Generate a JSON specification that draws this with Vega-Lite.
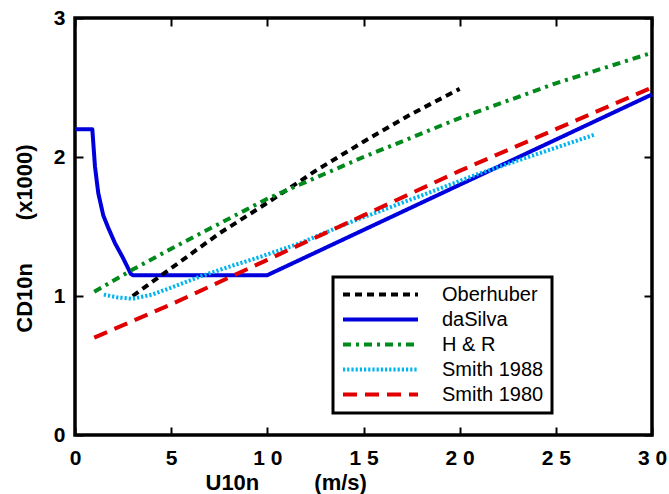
{
  "$schema": "https://vega.github.io/schema/vega-lite/v6.json",
  "width": 577,
  "height": 417,
  "autosize": {"type": "none"},
  "padding": {"left": 75, "top": 18, "right": 17, "bottom": 59},
  "background": "white",
  "config": {
    "view": {"stroke": "black", "strokeWidth": 3.5},
    "axis": {
      "domain": false,
      "grid": false,
      "ticks": true,
      "tickColor": "black",
      "tickWidth": 2,
      "tickCap": "butt",
      "labelFont": "Liberation Sans",
      "labelFontWeight": "bold",
      "labelFontSize": 21,
      "labelColor": "black",
      "labelOverlap": false,
      "labelBound": false,
      "labelFlush": false,
      "titleFont": "Liberation Sans",
      "titleFontWeight": "bold",
      "titleFontSize": 22,
      "titleColor": "black"
    },
    "legend": {
      "orient": "none",
      "legendX": 258,
      "legendY": 259,
      "symbolType": "stroke",
      "symbolSize": 5625,
      "clipHeight": 19,
      "rowPadding": 4,
      "labelFont": "Liberation Sans",
      "labelFontSize": 20,
      "labelColor": "black",
      "labelOffset": 22,
      "padding": 8,
      "strokeColor": "black",
      "strokeWidth": 3,
      "fillColor": "white",
      "labelLimit": 300
    }
  },
  "data": {
    "values": [
      {"s": "daSilva", "u": 0, "cd": 2.2},
      {"s": "daSilva", "u": 0.9, "cd": 2.2},
      {"s": "daSilva", "u": 1.04, "cd": 1.93},
      {"s": "daSilva", "u": 1.21, "cd": 1.74},
      {"s": "daSilva", "u": 1.47, "cd": 1.58},
      {"s": "daSilva", "u": 1.73, "cd": 1.49},
      {"s": "daSilva", "u": 2.08, "cd": 1.38},
      {"s": "daSilva", "u": 2.51, "cd": 1.27},
      {"s": "daSilva", "u": 2.9, "cd": 1.16},
      {"s": "daSilva", "u": 3, "cd": 1.15},
      {"s": "daSilva", "u": 10, "cd": 1.15},
      {"s": "daSilva", "u": 20, "cd": 1.8},
      {"s": "daSilva", "u": 30, "cd": 2.45},
      {"s": "Oberhuber", "u": 3, "cd": 1.0},
      {"s": "Oberhuber", "u": 5, "cd": 1.2},
      {"s": "Oberhuber", "u": 7.5, "cd": 1.45},
      {"s": "Oberhuber", "u": 10, "cd": 1.67},
      {"s": "Oberhuber", "u": 12.5, "cd": 1.9},
      {"s": "Oberhuber", "u": 15, "cd": 2.11},
      {"s": "Oberhuber", "u": 17.5, "cd": 2.31},
      {"s": "Oberhuber", "u": 20, "cd": 2.49},
      {"s": "H & R", "u": 1, "cd": 1.03},
      {"s": "H & R", "u": 3, "cd": 1.19},
      {"s": "H & R", "u": 5, "cd": 1.34},
      {"s": "H & R", "u": 7.5, "cd": 1.52},
      {"s": "H & R", "u": 10, "cd": 1.7},
      {"s": "H & R", "u": 15, "cd": 2.0},
      {"s": "H & R", "u": 20, "cd": 2.28},
      {"s": "H & R", "u": 25, "cd": 2.53},
      {"s": "H & R", "u": 30, "cd": 2.75},
      {"s": "Smith 1988", "u": 1.5, "cd": 1.01},
      {"s": "Smith 1988", "u": 2.2, "cd": 0.99},
      {"s": "Smith 1988", "u": 3, "cd": 0.98},
      {"s": "Smith 1988", "u": 4, "cd": 1.01},
      {"s": "Smith 1988", "u": 5, "cd": 1.06},
      {"s": "Smith 1988", "u": 6.5, "cd": 1.14},
      {"s": "Smith 1988", "u": 8, "cd": 1.21},
      {"s": "Smith 1988", "u": 9.6, "cd": 1.28},
      {"s": "Smith 1988", "u": 11.7, "cd": 1.38},
      {"s": "Smith 1988", "u": 14.3, "cd": 1.53},
      {"s": "Smith 1988", "u": 17, "cd": 1.67},
      {"s": "Smith 1988", "u": 21, "cd": 1.88},
      {"s": "Smith 1988", "u": 24, "cd": 2.02},
      {"s": "Smith 1988", "u": 27, "cd": 2.16},
      {"s": "Smith 1980", "u": 1, "cd": 0.7},
      {"s": "Smith 1980", "u": 5, "cd": 0.94},
      {"s": "Smith 1980", "u": 10, "cd": 1.26},
      {"s": "Smith 1980", "u": 15, "cd": 1.58},
      {"s": "Smith 1980", "u": 20, "cd": 1.9},
      {"s": "Smith 1980", "u": 25, "cd": 2.2},
      {"s": "Smith 1980", "u": 30, "cd": 2.5}
    ]
  },
  "resolve": {"axis": {"x": "independent", "y": "independent"}},
  "layer": [
    {
      "mark": {"type": "line", "strokeCap": "butt", "strokeJoin": "round"},
      "encoding": {
        "x": {
          "field": "u", "type": "quantitative",
          "scale": {"domain": [0, 30], "nice": false},
          "axis": {
            "orient": "bottom",
            "offset": -8,
            "tickSize": 8,
            "values": [0, 5, 10, 15, 20, 25, 30],
            "labelPadding": 12,
            "labelExpr": "datum.value < 10 ? '' + datum.value : floor(datum.value / 10) + ' ' + (datum.value % 10)",
            "title": "U10n\u00a0\u00a0\u00a0\u00a0\u00a0\u00a0\u00a0\u00a0\u00a0(m/s)",
            "titleX": 130,
            "titleY": 62,
            "titleAlign": "left",
            "titleBaseline": "alphabetic"
          }
        },
        "y": {
          "field": "cd", "type": "quantitative",
          "scale": {"domain": [0, 3], "nice": false},
          "axis": {
            "orient": "left",
            "offset": -8,
            "tickSize": 8,
            "values": [0, 1, 2, 3],
            "labelPadding": 10,
            "title": "CD10n\u00a0\u00a0\u00a0\u00a0\u00a0\u00a0\u00a0(x1000)",
            "titleAngle": 270,
            "titleX": -52,
            "titleY": 220,
            "titleAlign": "center",
            "titleBaseline": "alphabetic"
          }
        },
        "color": {
          "field": "s", "type": "nominal",
          "scale": {
            "domain": ["Oberhuber", "daSilva", "H & R", "Smith 1988", "Smith 1980"],
            "range": ["#000000", "#0000dd", "#008a1c", "#00b4f0", "#e00000"]
          },
          "legend": {"title": null, "labelExpr": "datum.label + '\u00a0'"}
        },
        "strokeDash": {
          "field": "s", "type": "nominal",
          "scale": {
            "domain": ["Oberhuber", "daSilva", "H & R", "Smith 1988", "Smith 1980"],
            "range": [[7, 5], [1, 0], [8, 5, 3, 5], [2.2, 2], [14, 8]]
          },
          "legend": {"title": null, "labelExpr": "datum.label + '\u00a0'"}
        },
        "strokeWidth": {
          "field": "s", "type": "nominal",
          "scale": {
            "domain": ["Oberhuber", "daSilva", "H & R", "Smith 1988", "Smith 1980"],
            "range": [4, 4, 4, 6.5, 7]
          },
          "legend": {"title": null, "labelExpr": "datum.label + '\u00a0'"}
        }
      }
    },
    {
      "mark": {"type": "point", "opacity": 0},
      "encoding": {
        "x": {
          "field": "u", "type": "quantitative",
          "axis": {
            "orient": "top",
            "offset": -8,
            "tickSize": 8,
            "values": [0, 5, 10, 15, 20, 25, 30],
            "labels": false,
            "title": null
          }
        },
        "y": {
          "field": "cd", "type": "quantitative",
          "axis": {
            "orient": "right",
            "offset": -8,
            "tickSize": 8,
            "values": [0, 1, 2, 3],
            "labels": false,
            "title": null
          }
        }
      }
    }
  ]
}
